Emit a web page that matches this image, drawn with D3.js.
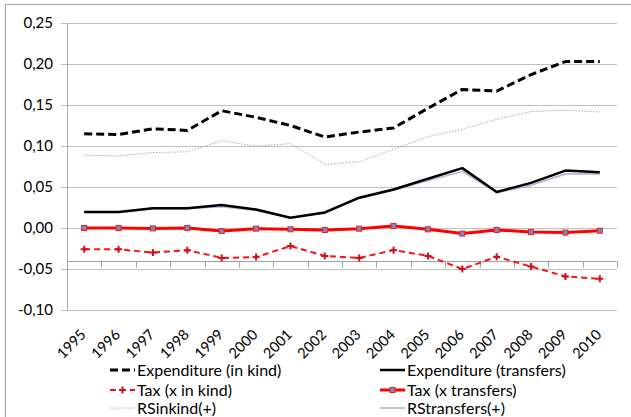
<!DOCTYPE html>
<html>
<head>
<meta charset="utf-8">
<script src="https://cdn.jsdelivr.net/npm/d3@7"></script>
<style>
  body { margin: 0; background: #fff; }
  svg text { font-family: Lato, "Open Sans", sans-serif; fill: #000; }
</style>
</head>
<body>
<svg width="631" height="417"></svg>
<script>
// data
const years = ["1995","1996","1997","1998","1999","2000","2001","2002","2003","2004","2005","2006","2007","2008","2009","2010"];
const expInKind    = [0.115,0.114,0.121,0.119,0.143,0.135,0.125,0.111,0.117,0.122,0.146,0.169,0.167,0.187,0.203,0.203];
const expTransfers = [0.0195,0.0195,0.024,0.024,0.028,0.0225,0.0125,0.019,0.037,0.047,0.060,0.073,0.044,0.055,0.070,0.068];
const taxInKind    = [-0.026,-0.026,-0.030,-0.027,-0.0365,-0.0355,-0.022,-0.034,-0.0365,-0.027,-0.034,-0.050,-0.035,-0.047,-0.059,-0.062];
const taxTransfers = [0.000,0.000,-0.0005,0.000,-0.0037,-0.0008,-0.0016,-0.0024,-0.0008,0.0025,-0.0016,-0.0068,-0.0024,-0.0048,-0.0056,-0.0033];
const rsInKind     = [0.0887,0.088,0.092,0.093,0.1065,0.0997,0.103,0.0777,0.0806,0.096,0.1115,0.1204,0.1326,0.142,0.1436,0.1415];
const rsTransfers  = [0.019,0.019,0.0235,0.0235,0.026,0.0215,0.0125,0.018,0.036,0.046,0.058,0.069,0.043,0.052,0.066,0.066];
const yTicks = [-0.10,-0.05,0,0.05,0.10,0.15,0.20,0.25];

const series = [
  { name: "RSinkind(+)", values: rsInKind, color: "#a9a4c6", width: 1, dash: "1.5,1.5", marker: null },
  { name: "RStransfers(+)", values: rsTransfers, color: "#b9b4d6", width: 1.6, dash: null, marker: null },
  { name: "Expenditure (in kind)", values: expInKind, color: "#000", width: 3, dash: "8,4", marker: null },
  { name: "Expenditure (transfers)", values: expTransfers, color: "#000", width: 2.5, dash: null, marker: null },
  { name: "Tax (x in kind)", values: taxInKind, color: "#ff1010", width: 2, dash: "6,4", marker: "plus" },
  { name: "Tax (x transfers)", values: taxTransfers, color: "#ff0000", width: 3, dash: null, marker: "square" }
];

const svg = d3.select("svg");
const plotLeft = 67, plotRight = 617, plotTop = 23, plotBottom = 310;

const x = d3.scaleBand().domain(years).range([plotLeft, plotRight]);
const y = d3.scaleLinear().domain([-0.10, 0.25]).range([plotBottom, plotTop]);
const fmt = v => d3.format(".2f")(v).replace(".", ",").replace("−", "-");

// chart frame
svg.append("rect")
  .attr("x", 5.5).attr("y", 4.5).attr("width", 700).attr("height", 500)
  .attr("fill", "none").attr("stroke", "#a6a6a6");

// gridlines + y axis
const yAxis = svg.append("g")
  .attr("transform", `translate(${plotLeft},0)`)
  .call(d3.axisLeft(y).tickValues(yTicks).tickFormat(fmt)
    .tickSize(-(plotRight - plotLeft)).tickPadding(14));
yAxis.select(".domain").remove();
yAxis.selectAll(".tick line").attr("stroke", "#c0c0c0").attr("x1", -6);
yAxis.selectAll(".tick text").attr("font-size", 15).attr("font-family", "Lato");

svg.append("line")
  .attr("x1", plotLeft + 0.5).attr("x2", plotLeft + 0.5)
  .attr("y1", plotTop).attr("y2", plotBottom)
  .attr("stroke", "#b0b0b0");

// category axis crossing at -0,04
const yCross = Math.round(y(-0.04)) + 0.5;
svg.append("line")
  .attr("x1", plotLeft).attr("x2", plotRight)
  .attr("y1", yCross).attr("y2", yCross)
  .attr("stroke", "#a0a0a0");
svg.selectAll(".xtick")
  .data(years.concat(["end"]))
  .join("line")
  .attr("x1", (d, i) => Math.round(plotLeft + i * x.bandwidth()) + 0.5)
  .attr("x2", (d, i) => Math.round(plotLeft + i * x.bandwidth()) + 0.5)
  .attr("y1", yCross).attr("y2", yCross + 6)
  .attr("stroke", "#a0a0a0");

// year labels, rotated
svg.selectAll(".ylab")
  .data(years)
  .join("text")
  .attr("transform", d => `translate(${x(d) + x.bandwidth() / 2 - 1},${332}) rotate(-45)`)
  .attr("text-anchor", "end")
  .attr("dy", "0.35em")
  .attr("font-size", 14.5)
  .text(d => d);

// lines
const line = d3.line()
  .x((d, i) => x(years[i]) + x.bandwidth() / 2)
  .y(d => y(d));

series.forEach(s => {
  svg.append("path")
    .datum(s.values)
    .attr("fill", "none")
    .attr("stroke", s.color)
    .attr("stroke-width", s.width)
    .attr("stroke-dasharray", s.dash)
    .attr("stroke-linejoin", "round")
    .attr("d", line);
});

function drawMarker(g, type, cx, cy) {
  if (type === "square") {
    g.append("rect")
      .attr("x", cx - 2.5).attr("y", cy - 2.5).attr("width", 5).attr("height", 5)
      .attr("fill", "#7f86b8").attr("stroke", "#e0202a").attr("stroke-width", 1);
  } else if (type === "plus") {
    g.append("path")
      .attr("d", `M${cx - 3.5},${cy}H${cx + 3.5}M${cx},${cy - 3.5}V${cy + 3.5}`)
      .attr("stroke", "#d0101a").attr("stroke-width", 2);
  }
}

series.filter(s => s.marker).forEach(s => {
  const g = svg.append("g");
  s.values.forEach((v, i) => drawMarker(g, s.marker, x(years[i]) + x.bandwidth() / 2, y(v)));
});

// legend
const legendOrder = ["Expenditure (in kind)", "Expenditure (transfers)", "Tax (x in kind)", "Tax (x transfers)", "RSinkind(+)", "RStransfers(+)"];
const colX = [110, 380], rowY = [370, 390, 408];
legendOrder.forEach((name, k) => {
  const s = series.find(d => d.name === name);
  const lx = colX[k % 2], ly = rowY[Math.floor(k / 2)];
  const g = svg.append("g");
  g.append("line")
    .attr("x1", lx).attr("x2", lx + 25)
    .attr("y1", ly).attr("y2", ly)
    .attr("stroke", s.color)
    .attr("stroke-width", s.width)
    .attr("stroke-dasharray", s.dash);
  if (s.marker) drawMarker(g, s.marker, lx + 12.5, ly);
  g.append("text")
    .attr("x", lx + 27).attr("y", ly)
    .attr("dy", "0.35em")
    .attr("font-size", 16)
    .text(name);
});
</script>
</body>
</html>
